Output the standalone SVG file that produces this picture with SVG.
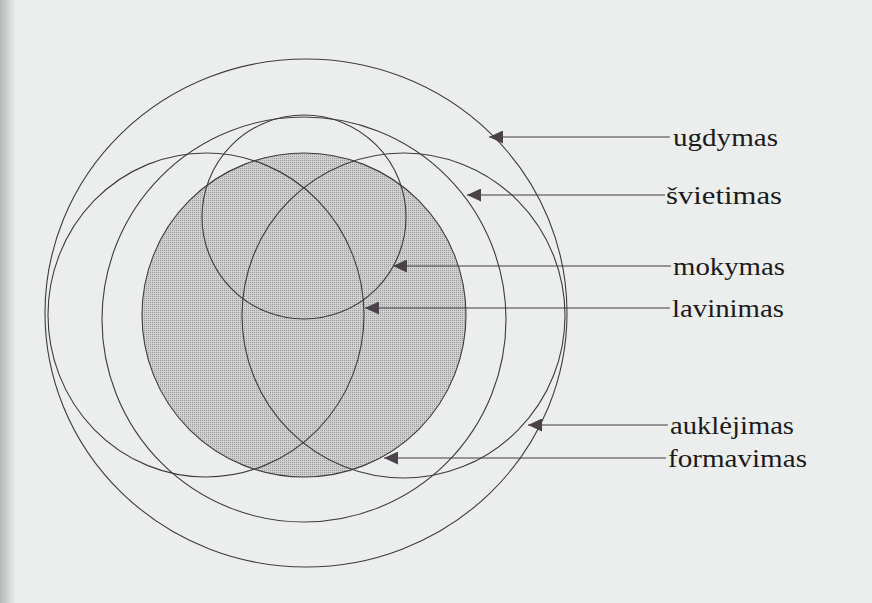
<svg xmlns="http://www.w3.org/2000/svg" width="872" height="603" viewBox="0 0 872 603">
  <defs>
    <linearGradient id="edge" x1="0" y1="0" x2="1" y2="0">
      <stop offset="0" stop-color="#b4b8b8"/>
      <stop offset="1" stop-color="#eceeed"/>
    </linearGradient>
    <pattern id="stipple" width="2" height="2" patternUnits="userSpaceOnUse">
      <rect width="2" height="2" fill="#cfd0cf"/>
      <rect width="1" height="1" fill="#9a9b9a"/>
    </pattern>
    <marker id="arrow" viewBox="0 0 14 13" refX="14" refY="6.5" markerWidth="14" markerHeight="13" markerUnits="userSpaceOnUse" orient="auto">
      <path d="M0,0 L14,6.5 L0,13 z" fill="#4a4248"/>
    </marker>
    <style>
      .ring { fill: none; stroke: #3c3c3c; stroke-width: 1.1; }
      .conn { fill: none; stroke: #3c3c3c; stroke-width: 1.1; marker-end: url(#arrow); }
      .label { font-family: "Liberation Serif", "Times New Roman", serif; font-size: 25px; fill: #1a1a1a; }
    </style>
  </defs>

  <rect width="872" height="603" fill="#eceeed"/>
  <rect width="16" height="603" fill="url(#edge)"/>

  <g id="formavimas-circle">
    <circle cx="304" cy="315" r="162" fill="url(#stipple)" stroke="#3c3c3c" stroke-width="1.1"/>
  </g>
  <g id="ugdymas-circle">
    <ellipse class="ring" cx="306" cy="313" rx="261" ry="254"/>
  </g>
  <g id="svietimas-circle">
    <ellipse class="ring" cx="304" cy="319.5" rx="202" ry="202.5"/>
  </g>
  <g id="mokymas-circle">
    <circle class="ring" cx="304" cy="217" r="102"/>
  </g>
  <g id="lavinimas-circle">
    <ellipse class="ring" cx="206" cy="315" rx="158" ry="162"/>
  </g>
  <g id="auklejimas-circle">
    <ellipse class="ring" cx="403.5" cy="315.5" rx="161.5" ry="162.5"/>
  </g>

  <g id="connectors">
    <line class="conn" x1="670" y1="137" x2="489" y2="137"/>
    <line class="conn" x1="665" y1="195" x2="467" y2="195"/>
    <line class="conn" x1="671" y1="266" x2="393" y2="266"/>
    <line class="conn" x1="670" y1="308" x2="365" y2="308"/>
    <line class="conn" x1="668" y1="425" x2="528" y2="425"/>
    <line class="conn" x1="666" y1="458" x2="384" y2="458"/>
  </g>

  <g id="label-ugdymas"><text class="label" x="673" y="146" textLength="105" lengthAdjust="spacingAndGlyphs">ugdymas</text></g>
  <g id="label-svietimas"><text class="label" x="666" y="204" textLength="116" lengthAdjust="spacingAndGlyphs">švietimas</text></g>
  <g id="label-mokymas"><text class="label" x="673" y="275" textLength="112" lengthAdjust="spacingAndGlyphs">mokymas</text></g>
  <g id="label-lavinimas"><text class="label" x="672" y="317" textLength="112" lengthAdjust="spacingAndGlyphs">lavinimas</text></g>
  <g id="label-auklejimas"><text class="label" x="670" y="434" textLength="124" lengthAdjust="spacingAndGlyphs">auklėjimas</text></g>
  <g id="label-formavimas"><text class="label" x="668" y="467" textLength="139" lengthAdjust="spacingAndGlyphs">formavimas</text></g>
</svg>
